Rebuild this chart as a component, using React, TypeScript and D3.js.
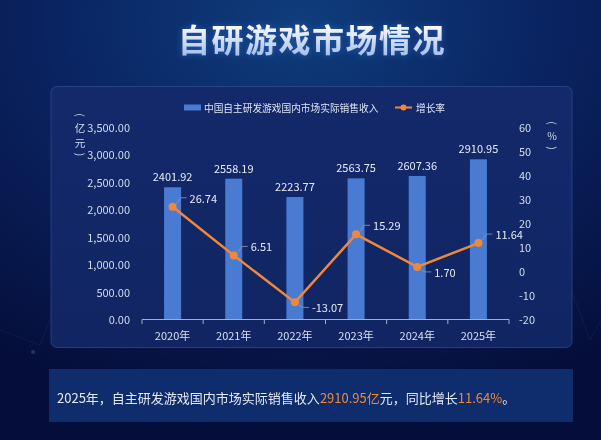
import React from 'react';
import * as d3 from 'd3';

const years = ['2020年', '2021年', '2022年', '2023年', '2024年', '2025年'];
const revenue = [2401.92, 2558.19, 2223.77, 2563.75, 2607.36, 2910.95];
const growth = [26.74, 6.51, -13.07, 15.29, 1.7, 11.64];
const leftTicks = [0, 500, 1000, 1500, 2000, 2500, 3000, 3500];
const rightTicks = [-20, -10, 0, 10, 20, 30, 40, 50, 60];

const W = 601;
const H = 440;
const BAR = '#4a7bd2';
const ORANGE = '#f0883a';
const FONT = '"Noto Sans CJK SC", "Noto Sans", sans-serif';

// vertical unit label: brackets turned a quarter, characters stacked
const VLabel = ({ x, y, chars }: { x: number; y: number; chars: string[] }) => {
    let cy = y;
    const items = chars.map((c, i) => {
        const bracket = c === '(' || c === ')';
        if (i > 0) {
            const prevBracket = chars[i - 1] === '(' || chars[i - 1] === ')';
            const cjk = /[\u4e00-\u9fff]/.test(c) && /[\u4e00-\u9fff]/.test(chars[i - 1]);
            cy += cjk ? 14.5 : prevBracket || bracket ? 12.5 : 14;
        }
        return { c, cy, bracket };
    });
    return (
        <g fontSize={10.5} fill="#d3dcec">
            {items.map((d, i) => (
                <text key={i} x={x} y={d.cy} textAnchor="middle" dominantBaseline="central"
                    transform={d.bracket ? `rotate(90,${x},${d.cy})` : undefined}>{d.c}</text>
            ))}
        </g>
    );
};

export default function App() {
    const x = d3.scaleBand<string>().domain(years).range([142, 509]);
    const yL = d3.scaleLinear().domain([0, 3500]).range([319, 127]);
    const yR = d3.scaleLinear().domain([-20, 60]).range([319, 127]);
    const cx = (d: string) => (x(d) ?? 0) + x.bandwidth() / 2;
    const barW = 17;

    const pts = growth.map((g, i) => [cx(years[i]), yR(g)] as [number, number]);
    const line = d3.line<[number, number]>().x(d => d[0]).y(d => d[1]);

    // label below the point for local minima, above otherwise
    const isMin = (i: number) =>
        (i === 0 || growth[i] < growth[i - 1]) && (i === growth.length - 1 || growth[i] < growth[i + 1]);

    const fmt = d3.format(',.2f');

    return (
        <svg width={W} height={H} style={{ position: 'fixed', left: 0, top: 0 }} fontFamily={FONT}>
            <defs>
                <radialGradient id="bg" cx="0.5" cy="0.05" r="0.9">
                    <stop offset="0" stopColor="#0f3d7c" />
                    <stop offset="0.45" stopColor="#0a2462" />
                    <stop offset="1" stopColor="#050e3a" />
                </radialGradient>
                <linearGradient id="panel" x1="0" y1="0" x2="0" y2="1">
                    <stop offset="0" stopColor="#13296a" />
                    <stop offset="1" stopColor="#112563" />
                </linearGradient>
                <linearGradient id="title" x1="0" y1="0" x2="0" y2="1">
                    <stop offset="0.2" stopColor="#ffffff" />
                    <stop offset="1" stopColor="#93b4ea" />
                </linearGradient>
                <filter id="glow" x="-20%" y="-50%" width="140%" height="200%">
                    <feGaussianBlur in="SourceAlpha" stdDeviation="3" result="b" />
                    <feFlood floodColor="#3d7be0" floodOpacity="0.55" />
                    <feComposite in2="b" operator="in" result="g" />
                    <feMerge>
                        <feMergeNode in="g" />
                        <feMergeNode in="SourceGraphic" />
                    </feMerge>
                </filter>
            </defs>

            <rect width={W} height={H} fill="url(#bg)" />

            {/* faint decoration */}
            <g stroke="#3a5aa0" strokeOpacity={0.15} fill="none">
                <path d="M73,262 L40,345 L0,330" />
                <path d="M561,262 L590,340 L601,320" />
            </g>
            <circle cx={73} cy={262} r={2} fill="#4a68b0" opacity={0.5} />
            <circle cx={33} cy={352} r={2} fill="#4a68b0" opacity={0.4} />
            <circle cx={561} cy={262} r={2} fill="#4a68b0" opacity={0.5} />

            <text x={312} y={38} textAnchor="middle" dominantBaseline="central" fontSize={32}
                fontWeight="bold" fill="url(#title)" filter="url(#glow)" letterSpacing={1.5}>
                自研游戏市场情况
            </text>

            <rect x={51} y={86.5} width={521} height={261} rx={6} fill="url(#panel)"
                stroke="#3a5a9e" strokeOpacity={0.55} />

            {/* legend */}
            <rect x={184} y={104.5} width={17} height={6} fill={BAR} />
            <text x={204} y={107.5} dominantBaseline="central" fontSize={9.7} fill="#dde5f2">
                中国自主研发游戏国内市场实际销售收入
            </text>
            <line x1={395} x2={412} y1={107.5} y2={107.5} stroke={ORANGE} strokeWidth={2} />
            <circle cx={403.5} cy={107.5} r={3} fill={ORANGE} />
            <text x={416} y={107.5} dominantBaseline="central" fontSize={9.7} fill="#dde5f2">增长率</text>

            {/* left axis */}
            {leftTicks.map(t => (
                <text key={t} x={130} y={yL(t)} textAnchor="end" dominantBaseline="central"
                    fontSize={11} fill="#d3dcec">{fmt(t)}</text>
            ))}
            <VLabel x={80} y={115} chars={['(', '亿', '元', ')']} />

            {/* right axis */}
            {rightTicks.map(t => (
                <text key={t} x={519} y={yR(t)} dominantBaseline="central" fontSize={11} fill="#d3dcec">{t}</text>
            ))}
            <VLabel x={552} y={123} chars={['(', '%', ')']} />

            {/* bars */}
            {revenue.map((v, i) => (
                <g key={years[i]}>
                    <rect x={cx(years[i]) - barW / 2} y={yL(v)} width={barW} height={yL(0) - yL(v)} fill={BAR} />
                    <text x={cx(years[i])} y={yL(v) - 11} textAnchor="middle" dominantBaseline="central"
                        fontSize={11} fill="#e6ecf6">{v.toFixed(2)}</text>
                </g>
            ))}

            {/* x axis */}
            <line x1={142} x2={509} y1={319.5} y2={319.5} stroke="#9fb0cc" />
            {d3.range(years.length + 1).map(i => {
                const tx = 142 + i * x.step();
                return <line key={i} x1={tx} x2={tx} y1={319.5} y2={324} stroke="#9fb0cc" />;
            })}
            {years.map(y => (
                <text key={y} x={cx(y)} y={335} textAnchor="middle" dominantBaseline="central"
                    fontSize={11} fill="#d8e0ee">{y}</text>
            ))}

            {/* growth line */}
            <path d={line(pts) ?? ''} fill="none" stroke={ORANGE} strokeWidth={2.5} />
            {pts.map(([px, py], i) => {
                const down = isMin(i);
                const dy = down ? 5 : -9;
                const sy = down ? 3 : -3;
                return (
                    <g key={i}>
                        <polyline points={`${px + 4},${py + sy} ${px + 8},${py + dy} ${px + 14},${py + dy}`}
                            fill="none" stroke="#8d9ab5" strokeWidth={0.8} />
                        <circle cx={px} cy={py} r={4} fill={ORANGE} />
                        <text x={px + 17} y={py + dy} dominantBaseline="central" fontSize={11}
                            fill="#e6ecf6">{growth[i].toFixed(2)}</text>
                    </g>
                );
            })}

            {/* summary */}
            <rect x={49} y={369} width={524} height={53} fill="#0f2c6c" />
            <text x={57} y={397} dominantBaseline="central" fontSize={13} fill="#e3e9f4">
                2025年，自主研发游戏国内市场实际销售收入
                <tspan fill={ORANGE}>{revenue[5].toFixed(2)}亿</tspan>
                元，同比增长
                <tspan fill={ORANGE}>{growth[5].toFixed(2)}%</tspan>
                。
            </text>
        </svg>
    );
}
